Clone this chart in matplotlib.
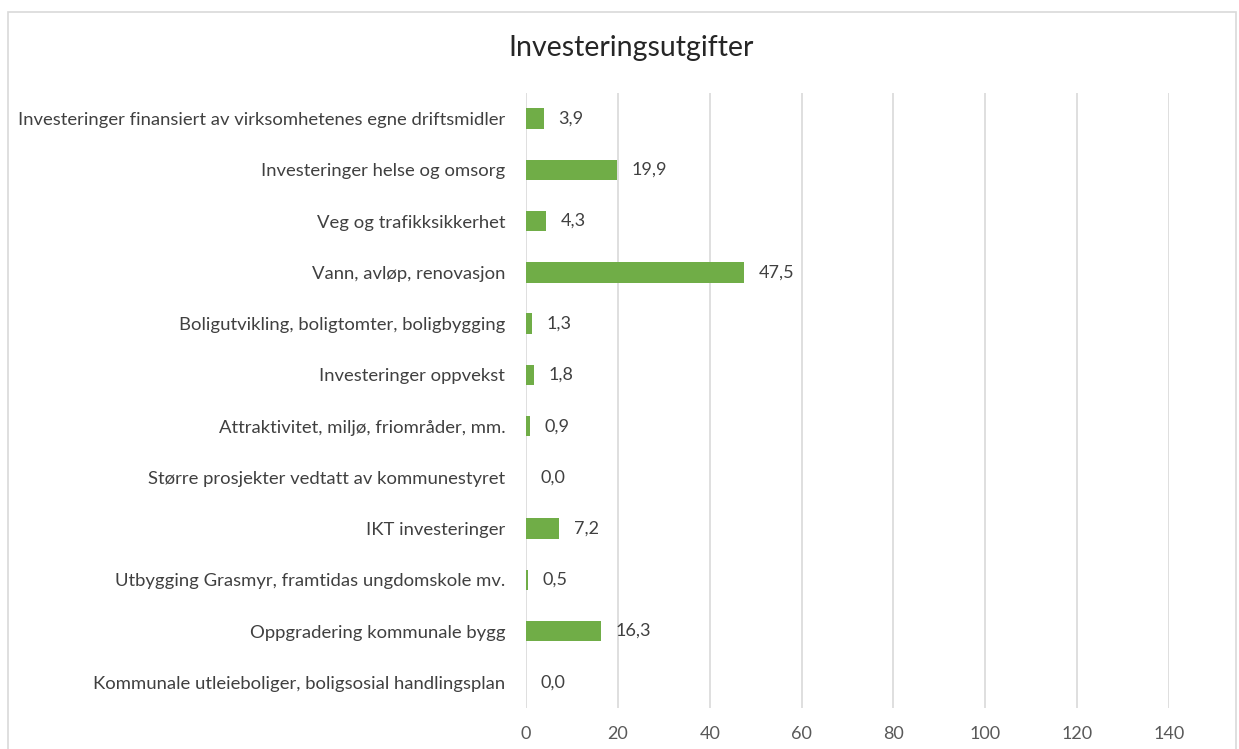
import matplotlib
matplotlib.use("Agg")
import matplotlib.pyplot as plt
from matplotlib.patches import Rectangle

categories = [
    "Investeringer finansiert av virksomhetenes egne driftsmidler",
    "Investeringer helse og omsorg",
    "Veg og trafikksikkerhet",
    "Vann, avløp, renovasjon",
    "Boligutvikling, boligtomter, boligbygging",
    "Investeringer oppvekst",
    "Attraktivitet, miljø, friområder, mm.",
    "Større prosjekter vedtatt av kommunestyret",
    "IKT investeringer",
    "Utbygging Grasmyr, framtidas ungdomskole mv.",
    "Oppgradering kommunale bygg",
    "Kommunale utleieboliger, boligsosial handlingsplan",
]
values = [3.9, 19.9, 4.3, 47.5, 1.3, 1.8, 0.9, 0.0, 7.2, 0.5, 16.3, 0.0]
xticks = [0, 20, 40, 60, 80, 100, 120, 140]
title = "Investeringsutgifter"

plt.rcParams['font.family'] = ['Lato', 'DejaVu Sans']

W, H = 1239, 749
fig = plt.figure(figsize=(W / 100, H / 100), dpi=100)
fig.patch.set_facecolor("white")

# chart border
fig.patches.append(Rectangle((8 / W, -0.05), (1236 - 8) / W, 1.05 - 12 / H,
                             transform=fig.transFigure, fill=False,
                             edgecolor="#D9D9D9", linewidth=1.2))

left, right, top, bottom = 526, 1169, 93, 708
ax = fig.add_axes([left / W, 1 - bottom / H, (right - left) / W, (bottom - top) / H])

y = list(range(len(categories)))
ax.barh(y, values, height=0.4, color="#70AD47", zorder=3)
ax.set_ylim(len(categories) - 0.5, -0.5)
ax.set_xlim(0, 140)
ax.set_xticks(xticks)
ax.set_xticklabels([str(t) for t in xticks], fontsize=13, color="#595959")
ax.set_yticks(y)
ax.set_yticklabels(categories, fontsize=13.3, color="#404040")
ax.tick_params(axis="both", length=0)
ax.tick_params(axis="x", pad=13)
ax.tick_params(axis="y", pad=15)
ax.grid(axis="x", color="#D9D9D9", linewidth=1.2, zorder=0)
for s in ax.spines.values():
    s.set_visible(False)

for yi, v in zip(y, values):
    ax.annotate(f"{v:.1f}".replace(".", ","), (v, yi), xytext=(10.5, 0),
                textcoords="offset points", va="center", ha="left",
                fontsize=13, color="#404040", zorder=4)

fig.text(631 / W, 1 - 48 / H, title, ha="center", va="center",
         fontsize=20.5, color="#262626")

fig.savefig("out.png", dpi=100)
